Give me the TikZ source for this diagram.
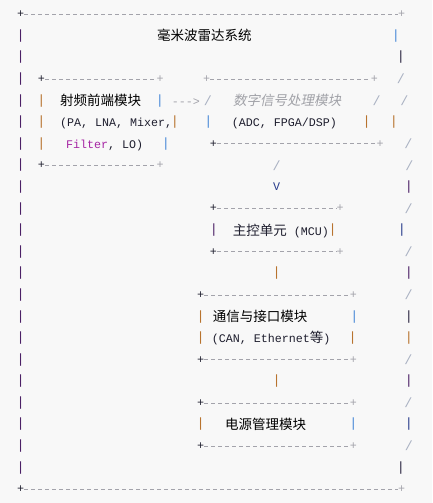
\documentclass[tikz,border=0pt]{standalone}
\usepackage{fontspec}
\setmonofont{Liberation Mono}
\newfontfamily\cjkfont{Noto Sans CJK SC}
\newfontfamily\cjkslant[FakeSlant=0.2]{Noto Sans CJK SC}
\newcommand\asc{\fontsize{11.67}{14}\selectfont\ttfamily}
\newcommand\tall{\fontsize{13.4}{16}\selectfont\ttfamily}
\newcommand\zh{\fontsize{13.5}{16}\selectfont\cjkfont}
\newcommand\zhit{\fontsize{13.5}{16}\selectfont\cjkslant}
\definecolor{bg}{HTML}{F8F8F8}
\definecolor{ink}{HTML}{1E1E2E}
\definecolor{kw}{HTML}{A626A4}
\definecolor{cmt}{HTML}{A0A1A7}
\definecolor{dashgrey}{HTML}{A3A3AB}
\definecolor{slashgrey}{HTML}{A9B1C2}
\definecolor{barpurple}{HTML}{4B2066}
\definecolor{barorange}{HTML}{B8732E}
\definecolor{barblue}{HTML}{4A8AD8}
\definecolor{bardark}{HTML}{2A2440}
\definecolor{bardarkblue}{HTML}{283C8C}

\begin{document}
\begin{tikzpicture}[
    x=1pt, y=-1pt,
    txt/.style={anchor=base west, inner sep=0pt, font=\asc, text=ink},
    glyph/.style={anchor=center, inner sep=0pt, font=\asc},
    lplus/.style={glyph, text=ink},
    rplus/.style={glyph, text=dashgrey},
    bar/.style={glyph, font=\tall, text=#1},
    bar/.default=barpurple,
    slash/.style={glyph, font=\tall, text=slashgrey},
    edge/.style={draw=dashgrey, line width=0.8pt, dash pattern=on 4pt off 3pt}
]
  \fill[bg] (0,0) rectangle (432,503);
  \useasboundingbox (0,0) rectangle (432,503);

  \node[lplus] (otl) at (20.7,14.3) {+};
  \node[rplus] (otr) at (401.7,14.3) {+};
  \node[lplus] (obl) at (20.7,489.3) {+};
  \node[rplus] (obr) at (401.7,489.3) {+};
  \draw[edge] (otl) -- (otr);
  \draw[edge] (obl) -- (obr);
  \foreach \k in {1,...,21}
    \node[bar] (l\k) at (20.7,{14.3+21.59*\k}) {|};
  \foreach \k/\x/\c in {1/396/barblue, 2/401/bardark, 5/394/barorange,
      8/409/barpurple, 10/402/bardarkblue, 12/409/barpurple, 14/409/bardark,
      15/409/barorange, 17/409/barpurple, 19/409/bardarkblue, 21/401/bardark}
    \node[bar=\c] (r\k) at (\x,{14.3+21.59*\k}) {|};
  \foreach \k/\x in {3/401, 4/404.3, 6/408.3, 7/409.3, 9/408.7, 11/408.7,
      13/408.7, 16/408.3, 18/408.3, 20/409}
    \node[slash] (r\k) at (\x,{14.3+21.59*\k}) {/};
  \node[txt, font=\zh, text=black] (title) at (157,40.5) {毫米波雷达系统};

  \node[lplus] (rftl) at (41.3,79.1) {+};
  \node[rplus] (rftr) at (160,79.1) {+};
  \node[lplus] (rfbl) at (41.3,165.4) {+};
  \node[rplus] (rfbr) at (160,165.4) {+};
  \draw[edge] (rftl) -- (rftr);
  \draw[edge] (rfbl) -- (rfbr);
  \foreach \k in {4,5,6}
    \node[bar=barorange] (rfl\k) at (41.3,{14.3+21.59*\k}) {|};
  \node[bar=barblue] (rfr4) at (160,100.7) {|};
  \node[bar=barorange] (rfr5) at (175,122.3) {|};
  \node[bar=barblue] (rfr6) at (166,143.8) {|};
  \node[txt, font=\zh, text=black] (rfname) at (60,105.5) {射频前端模块};
  \node[txt] (rfparts) at (60,126.9) {(PA, LNA, Mixer,};
  \node[txt] (rfmore) at (66,148.4) {\textcolor{kw}{Filter}, LO)};
  \node[txt, text=dashgrey] (link) at (171.7,105.3) {-{}-{}->};

  \node[rplus] (dsptl) at (206.7,79.1) {+};
  \node[rplus] (dsptr) at (374.3,79.1) {+};
  \node[lplus] (dspbl) at (213.3,143.8) {+};
  \node[rplus] (dspbr) at (380,143.8) {+};
  \draw[edge] (dsptl) -- (dsptr);
  \draw[edge] (dspbl) -- (dspbr);
  \node[slash] (dspl4) at (208,100.7) {/};
  \node[slash] (dspr4) at (376.7,100.7) {/};
  \node[bar=barblue] (dspl5) at (208.3,122.3) {|};
  \node[bar=barorange] (dspr5) at (366.7,122.3) {|};
  \node[txt, font=\zhit, text=cmt] (dspname) at (233,105.5) {数字信号处理模块};
  \node[txt] (dspparts) at (231.7,126.9) {(ADC, FPGA/DSP)};

  \node[slash] (down1) at (276.7,165.4) {/};
  \node[glyph, text=bardarkblue] (head1) at (276.7,187) {V};

  \node[lplus] (mcutl) at (213.3,208.6) {+};
  \node[rplus] (mcutr) at (340,208.6) {+};
  \node[lplus] (mcubl) at (213.3,251.8) {+};
  \node[rplus] (mcubr) at (340,251.8) {+};
  \draw[edge] (mcutl) -- (mcutr);
  \draw[edge] (mcubl) -- (mcubr);
  \node[bar] (mcul) at (214,230.2) {|};
  \node[bar=barorange] (mcur) at (332.7,230.2) {|};
  \node[txt] (mcuname) at (232.7,235) {{\zh 主控单元} (MCU)};

  \node[bar=barorange] (down2) at (276.7,273.4) {|};

  \node[lplus] (comtl) at (200.7,295) {+};
  \node[rplus] (comtr) at (353.3,295) {+};
  \node[lplus] (combl) at (200.7,359.7) {+};
  \node[rplus] (combr) at (353.3,359.7) {+};
  \draw[edge] (comtl) -- (comtr);
  \draw[edge] (combl) -- (combr);
  \node[bar=barorange] (coml14) at (200.7,316.6) {|};
  \node[bar=barorange] (coml15) at (200.7,338.2) {|};
  \node[bar=barblue] (comr14) at (354.3,316.6) {|};
  \node[bar=barorange] (comr15) at (352.7,338.2) {|};
  \node[txt, font=\zh, text=black] (comname) at (212.7,321.4) {通信与接口模块};
  \node[txt] (comparts) at (211.7,342.8) {(CAN, Ethernet{\zh 等})};

  \node[bar=barorange] (down3) at (276.7,381.3) {|};

  \node[lplus] (pwrtl) at (200.7,402.9) {+};
  \node[rplus] (pwrtr) at (353.3,402.9) {+};
  \node[lplus] (pwrbl) at (200.7,446.1) {+};
  \node[rplus] (pwrbr) at (353.3,446.1) {+};
  \draw[edge] (pwrtl) -- (pwrtr);
  \draw[edge] (pwrbl) -- (pwrbr);
  \node[bar=barorange] (pwrl) at (200.7,424.5) {|};
  \node[bar=barblue] (pwrr) at (353.3,424.5) {|};
  \node[txt, font=\zh, text=black] (pwrname) at (225,429.3) {电源管理模块};
\end{tikzpicture}
\end{document}
